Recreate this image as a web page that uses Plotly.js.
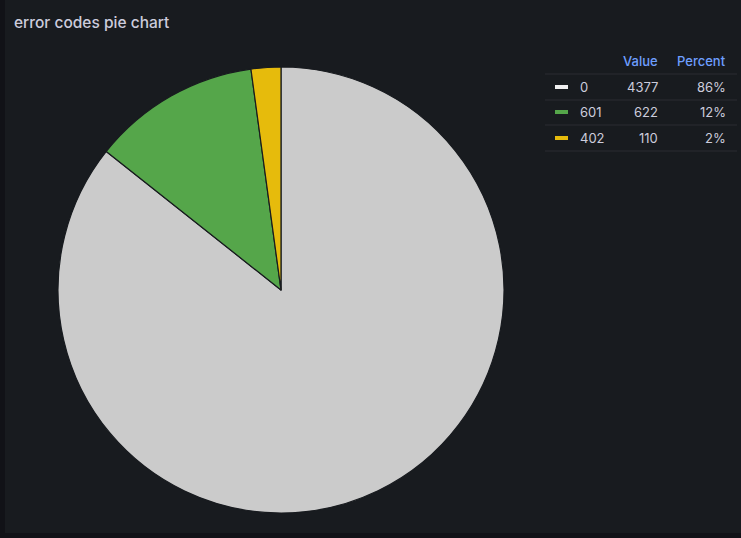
<!DOCTYPE html>
<html>
<head>
<meta charset="utf-8">
<script src="https://cdn.plot.ly/plotly-3.0.1.min.js"></script>
<style>
  html, body { margin: 0; padding: 0; background: #111217; }
  #chart { position: absolute; left: 5px; top: 0; width: 736px; height: 533px; }
</style>
</head>
<body>
<div id="chart"></div>
<script>
const labels = ["0", "601", "402"];
const values = [4377, 622, 110];
const percents = ["86%", "12%", "2%"];
const colors = ["#cbcbcb", "#55a64a", "#e6bb0c"];
const headers = ["Value", "Percent"];

const W = 736, H = 533;
const px = x => (x - 5) / W;
const py = y => 1 - y / H;

const cx = 281, cy = 290, r = 223;

const annotations = [];
const shapes = [];
const textColor = "#ccccdc";
const fontFam = "Inter, 'Noto Sans', sans-serif";

// title
annotations.push({
  xref: "paper", yref: "paper", x: px(12), y: py(22), xanchor: "left", yanchor: "middle",
  text: "error codes pie chart", showarrow: false,
  font: { family: fontFam, size: 15.5, color: textColor, weight: 500 }
});

// legend headers
const colRight = [660, 728];
headers.forEach((h, i) => {
  annotations.push({
    xref: "paper", yref: "paper", x: px(colRight[i]), y: py(61), xanchor: "right", yanchor: "middle",
    text: h, showarrow: false, font: { family: fontFam, size: 13, color: "#6e9fff", weight: 500 }
  });
});

const rowY = [87, 112, 138];
const sepY = [74, 100, 125, 151];
sepY.forEach(y => {
  shapes.push({ type: "line", xref: "paper", yref: "paper", x0: px(545), x1: px(737), y0: py(y), y1: py(y),
    line: { color: "#2a2d33", width: 1 } });
});
labels.forEach((lab, i) => {
  const y = rowY[i];
  shapes.push({ type: "rect", xref: "paper", yref: "paper", x0: px(555), x1: px(568), y0: py(y - 2), y1: py(y + 2),
    fillcolor: i === 0 ? "#f0f0f0" : colors[i], line: { width: 0 } });
  annotations.push({ xref: "paper", yref: "paper", x: px(578), y: py(y), xanchor: "left", yanchor: "middle",
    text: lab, showarrow: false, font: { family: fontFam, size: 13, color: textColor } });
  annotations.push({ xref: "paper", yref: "paper", x: px(colRight[0]), y: py(y), xanchor: "right", yanchor: "middle",
    text: String(values[i]), showarrow: false, font: { family: fontFam, size: 13, color: textColor } });
  annotations.push({ xref: "paper", yref: "paper", x: px(colRight[1]), y: py(y), xanchor: "right", yanchor: "middle",
    text: percents[i], showarrow: false, font: { family: fontFam, size: 13, color: textColor } });
});

const trace = {
  type: "pie",
  labels: labels,
  values: values,
  sort: false,
  direction: "clockwise",
  rotation: 0,
  textinfo: "none",
  hoverinfo: "label+value+percent",
  marker: { colors: colors, line: { color: "#181b1f", width: 1.2 } },
  domain: { x: [px(cx - r), px(cx + r)], y: [py(cy + r), py(cy - r)] },
  showlegend: false
};

const layout = {
  width: W, height: H,
  margin: { l: 0, r: 0, t: 0, b: 0 },
  paper_bgcolor: "#181b1f",
  plot_bgcolor: "#181b1f",
  showlegend: false,
  annotations: annotations,
  shapes: shapes
};

Plotly.newPlot("chart", [trace], layout, { displayModeBar: false, staticPlot: true });
</script>
</body>
</html>
